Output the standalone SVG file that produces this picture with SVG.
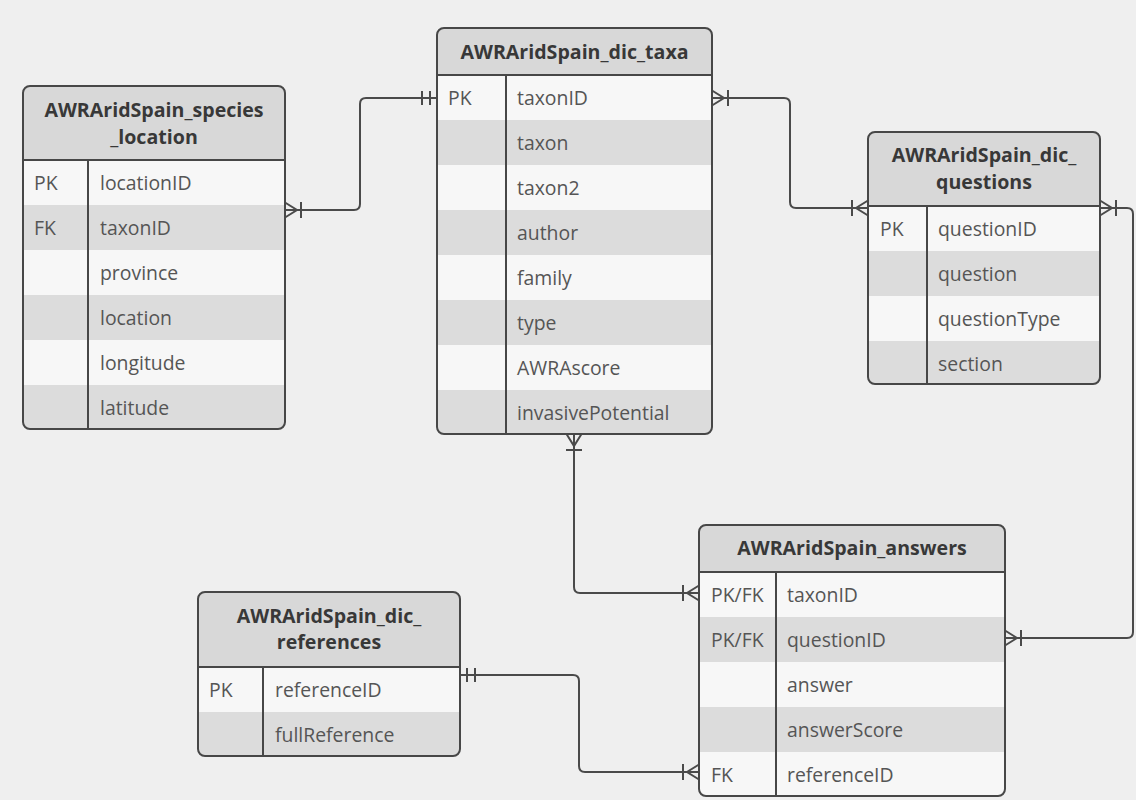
<svg xmlns="http://www.w3.org/2000/svg" width="1136" height="800" viewBox="0 0 1136 800">
<style>
.bg{fill:#efefef}
.hd{fill:#d8d8d8}
.r1{fill:#f7f7f7}
.r2{fill:#dcdcdc}
.frame{fill:none;stroke:#474747;stroke-width:2}
.ln{stroke:#474747;stroke-width:2;fill:none}
.t{font-family:"Open Sans","Liberation Sans",sans-serif;font-weight:bold;font-size:19.6px;fill:#383838;text-anchor:middle}
.f{font-family:"Open Sans","Liberation Sans",sans-serif;font-size:19.4px;fill:#555}
.c{stroke:#4a4a4a;stroke-width:2;fill:none}
</style>
<defs>
<marker id="many" markerUnits="userSpaceOnUse" viewBox="-20 -10 22 20" refX="0" refY="0" markerWidth="22" markerHeight="20" orient="auto-start-reverse">
<path d="M0,-7.5 L-12,0 L0,7.5 M-16,-8 V8 M-16,0 H0" stroke="#4a4a4a" stroke-width="2" fill="none"/>
</marker>
<marker id="one" markerUnits="userSpaceOnUse" viewBox="-20 -10 22 20" refX="0" refY="0" markerWidth="22" markerHeight="20" orient="auto-start-reverse">
<path d="M-7,-7 V7 M-15,-7 V7" stroke="#4a4a4a" stroke-width="2" fill="none"/>
</marker>
<clipPath id="cpS"><rect x="23" y="86" width="262" height="343" rx="7"/></clipPath>
<clipPath id="cpT"><rect x="437" y="28" width="275" height="406" rx="7"/></clipPath>
<clipPath id="cpQ"><rect x="868" y="132" width="232" height="252" rx="7"/></clipPath>
<clipPath id="cpR"><rect x="198" y="592" width="262" height="164" rx="7"/></clipPath>
<clipPath id="cpA"><rect x="699" y="525" width="306" height="271" rx="7"/></clipPath>
</defs>
<rect class="bg" x="0" y="0" width="1136" height="800"/>

<g id="connectors">
<path class="c" d="M285,210 H354 Q360,210 360,204 V104 Q360,98 366,98 H437" marker-start="url(#many)" marker-end="url(#one)"/>
<path class="c" d="M712,98 H784 Q790,98 790,104 V202 Q790,208 796,208 H868" marker-start="url(#many)" marker-end="url(#many)"/>
<path class="c" d="M1100,208 H1127 Q1133,208 1133,214 V632 Q1133,638 1127,638 H1005" marker-start="url(#many)" marker-end="url(#many)"/>
<path class="c" d="M574,434 V587 Q574,593 580,593 H699" marker-start="url(#many)" marker-end="url(#many)"/>
<path class="c" d="M460,675 H573 Q579,675 579,681 V766 Q579,772 585,772 H699" marker-start="url(#one)" marker-end="url(#many)"/>
</g>

<g id="species_location">
<g clip-path="url(#cpS)">
<rect class="hd" x="23" y="86" width="262" height="74"/>
<rect class="r1" x="23" y="160" width="262" height="45"/>
<rect class="r2" x="23" y="205" width="262" height="45"/>
<rect class="r1" x="23" y="250" width="262" height="45"/>
<rect class="r2" x="23" y="295" width="262" height="45"/>
<rect class="r1" x="23" y="340" width="262" height="45"/>
<rect class="r2" x="23" y="385" width="262" height="44"/>
</g>
<rect class="frame" x="23" y="86" width="262" height="343" rx="7"/>
<path class="ln" d="M23,160 H285 M88,160 V429"/>
<text class="t" x="154" y="117">AWRAridSpain_species</text>
<text class="t" x="154" y="144">_location</text>
<text class="f" x="34" y="190">PK</text><text class="f" x="100" y="190">locationID</text>
<text class="f" x="34" y="235">FK</text><text class="f" x="100" y="235">taxonID</text>
<text class="f" x="100" y="280">province</text>
<text class="f" x="100" y="325">location</text>
<text class="f" x="100" y="370">longitude</text>
<text class="f" x="100" y="415">latitude</text>
</g>

<g id="dic_taxa">
<g clip-path="url(#cpT)">
<rect class="hd" x="437" y="28" width="275" height="47"/>
<rect class="r1" x="437" y="75" width="275" height="45"/>
<rect class="r2" x="437" y="120" width="275" height="45"/>
<rect class="r1" x="437" y="165" width="275" height="45"/>
<rect class="r2" x="437" y="210" width="275" height="45"/>
<rect class="r1" x="437" y="255" width="275" height="45"/>
<rect class="r2" x="437" y="300" width="275" height="45"/>
<rect class="r1" x="437" y="345" width="275" height="45"/>
<rect class="r2" x="437" y="390" width="275" height="44"/>
</g>
<rect class="frame" x="437" y="28" width="275" height="406" rx="7"/>
<path class="ln" d="M437,75 H712 M506,75 V434"/>
<text class="t" x="574.5" y="59">AWRAridSpain_dic_taxa</text>
<text class="f" x="448" y="105">PK</text><text class="f" x="517" y="105">taxonID</text>
<text class="f" x="517" y="150">taxon</text>
<text class="f" x="517" y="195">taxon2</text>
<text class="f" x="517" y="240">author</text>
<text class="f" x="517" y="285">family</text>
<text class="f" x="517" y="330">type</text>
<text class="f" x="517" y="375">AWRAscore</text>
<text class="f" x="517" y="420">invasivePotential</text>
</g>

<g id="dic_questions">
<g clip-path="url(#cpQ)">
<rect class="hd" x="868" y="132" width="232" height="74"/>
<rect class="r1" x="868" y="206" width="232" height="45"/>
<rect class="r2" x="868" y="251" width="232" height="45"/>
<rect class="r1" x="868" y="296" width="232" height="45"/>
<rect class="r2" x="868" y="341" width="232" height="43"/>
</g>
<rect class="frame" x="868" y="132" width="232" height="252" rx="7"/>
<path class="ln" d="M868,206 H1100 M927,206 V384"/>
<text class="t" x="984" y="162">AWRAridSpain_dic_</text>
<text class="t" x="984" y="189">questions</text>
<text class="f" x="880" y="236">PK</text><text class="f" x="938" y="236">questionID</text>
<text class="f" x="938" y="281">question</text>
<text class="f" x="938" y="326">questionType</text>
<text class="f" x="938" y="371">section</text>
</g>

<g id="dic_references">
<g clip-path="url(#cpR)">
<rect class="hd" x="198" y="592" width="262" height="75"/>
<rect class="r1" x="198" y="667" width="262" height="45"/>
<rect class="r2" x="198" y="712" width="262" height="44"/>
</g>
<rect class="frame" x="198" y="592" width="262" height="164" rx="7"/>
<path class="ln" d="M198,667 H460 M263,667 V756"/>
<text class="t" x="329" y="623">AWRAridSpain_dic_</text>
<text class="t" x="329" y="649">references</text>
<text class="f" x="209" y="697">PK</text><text class="f" x="275" y="697">referenceID</text>
<text class="f" x="275" y="742">fullReference</text>
</g>

<g id="answers">
<g clip-path="url(#cpA)">
<rect class="hd" x="699" y="525" width="306" height="47"/>
<rect class="r1" x="699" y="572" width="306" height="45"/>
<rect class="r2" x="699" y="617" width="306" height="45"/>
<rect class="r1" x="699" y="662" width="306" height="45"/>
<rect class="r2" x="699" y="707" width="306" height="45"/>
<rect class="r1" x="699" y="752" width="306" height="44"/>
</g>
<rect class="frame" x="699" y="525" width="306" height="271" rx="7"/>
<path class="ln" d="M699,572 H1005 M776,572 V796"/>
<text class="t" x="852" y="555">AWRAridSpain_answers</text>
<text class="f" x="711" y="602">PK/FK</text><text class="f" x="787" y="602">taxonID</text>
<text class="f" x="711" y="647">PK/FK</text><text class="f" x="787" y="647">questionID</text>
<text class="f" x="787" y="692">answer</text>
<text class="f" x="787" y="737">answerScore</text>
<text class="f" x="711" y="782">FK</text><text class="f" x="787" y="782">referenceID</text>
</g>
</svg>
